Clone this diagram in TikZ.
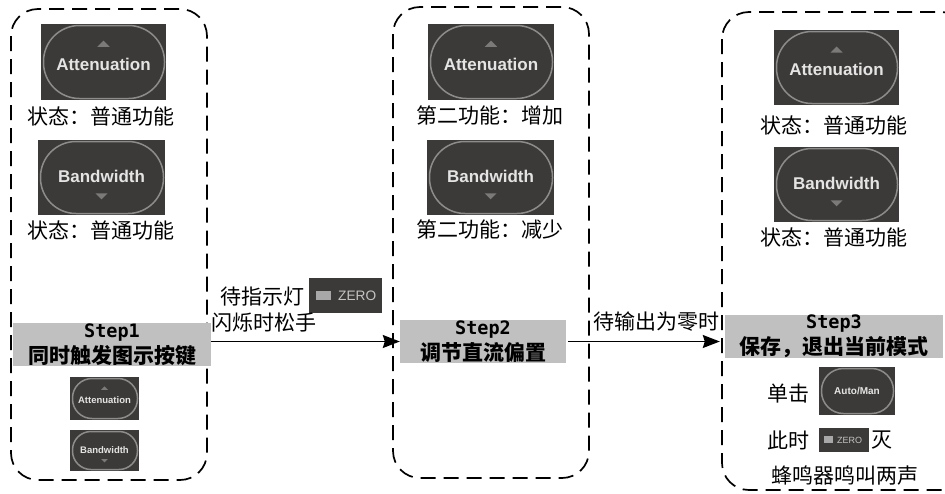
\documentclass[tikz,border=0pt]{standalone}
\usepackage{fontspec}
\setmainfont{Noto Sans CJK SC}
\newfontfamily\arialf{Liberation Sans}
\newfontfamily\monof{DejaVu Sans Mono}
\usetikzlibrary{arrows.meta,calc}
\definecolor{btnbg}{HTML}{3C3A39}
\definecolor{btnring}{HTML}{8E8C8A}
\definecolor{btntxt}{HTML}{E4E4E4}
\definecolor{btntri}{HTML}{7C7A78}
\definecolor{stepgray}{HTML}{C0C0C0}
\definecolor{ledgray}{HTML}{A8A8A8}
\definecolor{ledtxt}{HTML}{C4C4C4}
\tikzset{
  grp/.style={draw=black, line width=1.7pt, dash pattern=on 15pt off 8pt, rounded corners=27pt},
  lbl/.style={inner sep=0pt, font=\fontsize{21}{25}\selectfont},
  stepbox/.style={fill=stepgray, inner sep=0pt, align=center, font=\fontsize{21}{26}\selectfont\bfseries},
  conn/.style={line width=1.5pt, -{Stealth[length=17pt,width=13pt,inset=2pt]}},
  ring/.style={draw=btnring, line width=1.5pt},
  btntext/.style={inner sep=0pt, text=btntxt},
}
% name, x1, y1, x2, y2, font size, text, triangle (0 none, 1 up, 2 down)
\newcommand\kbtn[8]{%
  \fill[btnbg] (#2,#3) rectangle (#4,#5);
  \pgfmathsetmacro\kbr{(#5-#3)/2-2}%
  \pgfmathsetmacro\kcx{(#2+#4)/2}%
  \pgfmathsetmacro\kh{#5-#3}%
  \draw[ring, rounded corners=\kbr pt] (#2+2.5,#3+1.5) rectangle (#4-1.5,#5-1.5);
  \ifcase#8
    \node[btntext, font=\arialf\bfseries\fontsize{#6}{#6}\selectfont] (#1) at (\kcx,{(#3+#5)/2}) {#7};
  \or
    \node[btntext, font=\arialf\bfseries\fontsize{#6}{#6}\selectfont] (#1) at (\kcx,{#3+0.53*\kh}) {#7};
    \fill[btntri] (\kcx-0.08*\kh,#3+0.30*\kh) -- (\kcx+0.08*\kh,#3+0.30*\kh) -- (\kcx,#3+0.22*\kh) -- cycle;
  \or
    \node[btntext, font=\arialf\bfseries\fontsize{#6}{#6}\selectfont] (#1) at (\kcx,{#3+0.48*\kh}) {#7};
    \fill[btntri] (\kcx-0.08*\kh,#3+0.71*\kh) -- (\kcx+0.08*\kh,#3+0.71*\kh) -- (\kcx,#3+0.79*\kh) -- cycle;
  \fi
}
\begin{document}
\begin{tikzpicture}[x=1pt,y=-1pt]
\useasboundingbox (0,0) rectangle (945,493);
\clip (0,0) rectangle (945,493);
% groups
\draw[grp] (11,9) rectangle (207,480);
\draw[grp] (393,7) rectangle (589,478);
\draw[grp] (722,12) rectangle (968,490);

% group 1
\kbtn{a1}{41}{24}{166}{100}{17}{Attenuation}{1}
\node[lbl] (t1a) at (101,116) {状态：普通功能};
\kbtn{b1}{38}{140}{165}{215}{17}{Bandwidth}{2}
\node[lbl] (t1b) at (101,230) {状态：普通功能};
\node[stepbox, minimum width=198pt, minimum height=43pt] (s1) at (112,344.5)
  {{\monof\bfseries\fontsize{18.5}{26}\selectfont Step1}\\同时触发图示按键};
\kbtn{a1s}{70}{377}{139}{420}{9.5}{Attenuation}{1}
\kbtn{b1s}{70}{430}{139}{471}{9.5}{Bandwidth}{2}

% group 2
\kbtn{a2}{428}{24}{554}{100}{17}{Attenuation}{1}
\node[lbl] (t2a) at (490,115) {第二功能：增加};
\kbtn{b2}{427}{140}{554}{215}{17}{Bandwidth}{2}
\node[lbl] (t2b) at (490,230) {第二功能：减少};
\node[stepbox, minimum width=166pt, minimum height=43pt] (s2) at (483,341.5)
  {{\monof\bfseries\fontsize{18.5}{26}\selectfont Step2}\\调节直流偏置};

% group 3
\kbtn{a3}{774}{30}{899}{105}{17}{Attenuation}{1}
\node[lbl] (t3a) at (834,125) {状态：普通功能};
\kbtn{b3}{774}{147}{899}{222}{17}{Bandwidth}{2}
\node[lbl] (t3b) at (834,237) {状态：普通功能};
\node[stepbox, minimum width=218pt, minimum height=43pt] (s3) at (834,336.5)
  {{\monof\bfseries\fontsize{18.5}{26}\selectfont Step3}\\保存，退出当前模式};
\node[lbl] (c1) at (788,394) {单击};
\kbtn{am}{819}{367}{895}{415}{10}{Auto/Man}{0}
\node[lbl] (c2) at (788,440) {此时};
\fill[btnbg] (819,428) rectangle (869,452);
\fill[ledgray] (824,436) rectangle (833,443);
\node[inner sep=0pt, anchor=west, text=ledtxt, font=\arialf\fontsize{9}{9}\selectfont] (z2) at (837,440) {ZERO};
\node[lbl] (c3) at (882,440) {灭};
\node[lbl] (c4) at (845,476) {蜂鸣器鸣叫两声};

% connector labels
\node[lbl] (w1) at (262,297) {待指示灯};
\fill[btnbg] (309,278) rectangle (382,313);
\fill[ledgray] (316,291) rectangle (331,300);
\node[inner sep=0pt, anchor=west, text=ledtxt, font=\arialf\fontsize{13.7}{14}\selectfont] (z1) at (338,295.5) {ZERO};
\node[lbl] (w2) at (264,323) {闪烁时松手};
\node[lbl] (w3) at (656,322) {待输出为零时};

% connectors
\draw[conn] ([yshift=3pt]s1.east) -- (s2.west);
\draw[conn, shorten <=2pt, shorten >=5pt] (s2.east) -- (s2.east -| s3.west);
\end{tikzpicture}
\end{document}
